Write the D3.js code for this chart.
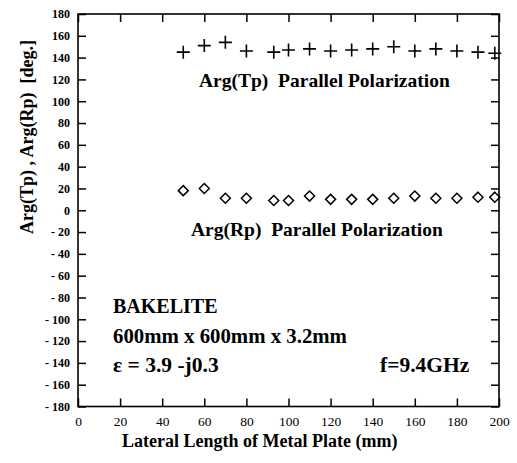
<!DOCTYPE html>
<html>
<head>
<meta charset="utf-8">
<script src="https://cdn.jsdelivr.net/npm/d3@7"></script>
<style>
  body { margin: 0; background: #fff; }
</style>
</head>
<body>
<div id="chart"></div>
<script>
// Data
const lengths = [50, 60, 70, 80, 93, 100, 110, 120, 130, 140, 150, 160, 170, 180, 190, 198];
const argTp = [145, 151, 154, 146, 145, 147, 148, 146, 147, 148, 150, 146, 148, 146, 145, 144];
const argRp = [18, 20, 11, 11, 9, 9, 13, 10, 10, 10, 11, 13, 11, 11, 12, 12];
const xTicks = [0, 20, 40, 60, 80, 100, 120, 140, 160, 180, 200];
const yTicks = d3.range(-180, 181, 20);

const serif = '"Liberation Serif", "Times New Roman", Times, "DejaVu Serif", serif';

const W = 517, H = 463;
const margin = { top: 14, right: 18, bottom: 56.5, left: 78 };

const svg = d3.select('#chart').append('svg')
  .attr('width', W)
  .attr('height', H);

const x = d3.scaleLinear().domain([0, 200]).range([margin.left, W - margin.right]);
const y = d3.scaleLinear().domain([-180, 180]).range([H - margin.bottom, margin.top]);

// axes, ticks pointing into the plot
const yFmt = (d) => (d < 0 ? '- ' + (-d) : d);

svg.append('g')
  .attr('transform', `translate(${margin.left},0)`)
  .call(d3.axisLeft(y).tickValues(yTicks).tickSize(-8).tickPadding(8).tickFormat(yFmt))
  .call((g) => g.selectAll('text').style('font-size', '12px').style('font-weight', 'bold'));

svg.append('g')
  .attr('transform', `translate(${W - margin.right},0)`)
  .call(d3.axisRight(y).tickValues(yTicks).tickSize(-8).tickFormat(''));

svg.append('g')
  .attr('transform', `translate(0,${H - margin.bottom})`)
  .call(d3.axisBottom(x).tickValues(xTicks).tickSize(-8).tickPadding(10))
  .call((g) => g.selectAll('text').style('font-size', '13.5px'));

svg.append('g')
  .attr('transform', `translate(0,${margin.top})`)
  .call(d3.axisTop(x).tickValues(xTicks).tickSize(-8).tickFormat(''));

svg.selectAll('.domain').remove();
svg.selectAll('.tick line').attr('stroke', '#000').attr('stroke-width', 1.5);

// frame
svg.append('rect')
  .attr('x', x(0))
  .attr('y', y(180))
  .attr('width', x(200) - x(0))
  .attr('height', y(-180) - y(180))
  .attr('fill', 'none')
  .attr('stroke', '#000')
  .attr('stroke-width', 1.6);

// Arg(Tp) : plus markers
svg.append('g')
  .selectAll('path')
  .data(lengths)
  .enter()
  .append('path')
  .attr('transform', (d, i) => `translate(${x(d)},${y(argTp[i])})`)
  .attr('d', 'M-6.5,0H6.5M0,-6.5V6.5')
  .attr('stroke', '#000')
  .attr('stroke-width', 1.6)
  .attr('fill', 'none');

// Arg(Rp) : diamond markers
svg.append('g')
  .selectAll('path')
  .data(lengths)
  .enter()
  .append('path')
  .attr('transform', (d, i) => `translate(${x(d)},${y(argRp[i])})`)
  .attr('d', 'M0,-5L5,0L0,5L-5,0Z')
  .attr('stroke', '#000')
  .attr('stroke-width', 1.5)
  .attr('fill', 'none');

// annotations
const note = (tx, ty, s, size, weight) =>
  svg.append('text')
    .attr('x', tx)
    .attr('y', ty)
    .style('font-size', size + 'px')
    .style('font-weight', weight || 'bold')
    .attr('xml:space', 'preserve')
    .text(s);

note(199, 87, 'Arg(Tp)  Parallel Polarization', 19.5);
note(191, 236, 'Arg(Rp)  Parallel Polarization', 19.5);
note(113, 313, 'BAKELITE', 20);
note(113, 343, '600mm x 600mm x 3.2mm', 20.8);
note(113, 372, '\u03b5 = 3.9 -j0.3', 21.5);
note(380, 372, 'f=9.4GHz', 21.5);

// axis titles
svg.append('text')
  .attr('x', 122)
  .attr('y', 447)
  .style('font-size', '18px')
  .style('font-weight', 'bold')
  .text('Lateral Length of Metal Plate (mm)');

svg.append('text')
  .attr('transform', 'translate(33,40) rotate(-90)')
  .attr('text-anchor', 'end')
  .style('font-size', '18px')
  .style('font-weight', 'bold')
  .attr('xml:space', 'preserve')
  .text('Arg(Tp) , Arg(Rp)  [deg.]');

svg.selectAll('text').style('font-family', serif).attr('fill', '#000');
</script>
</body>
</html>
